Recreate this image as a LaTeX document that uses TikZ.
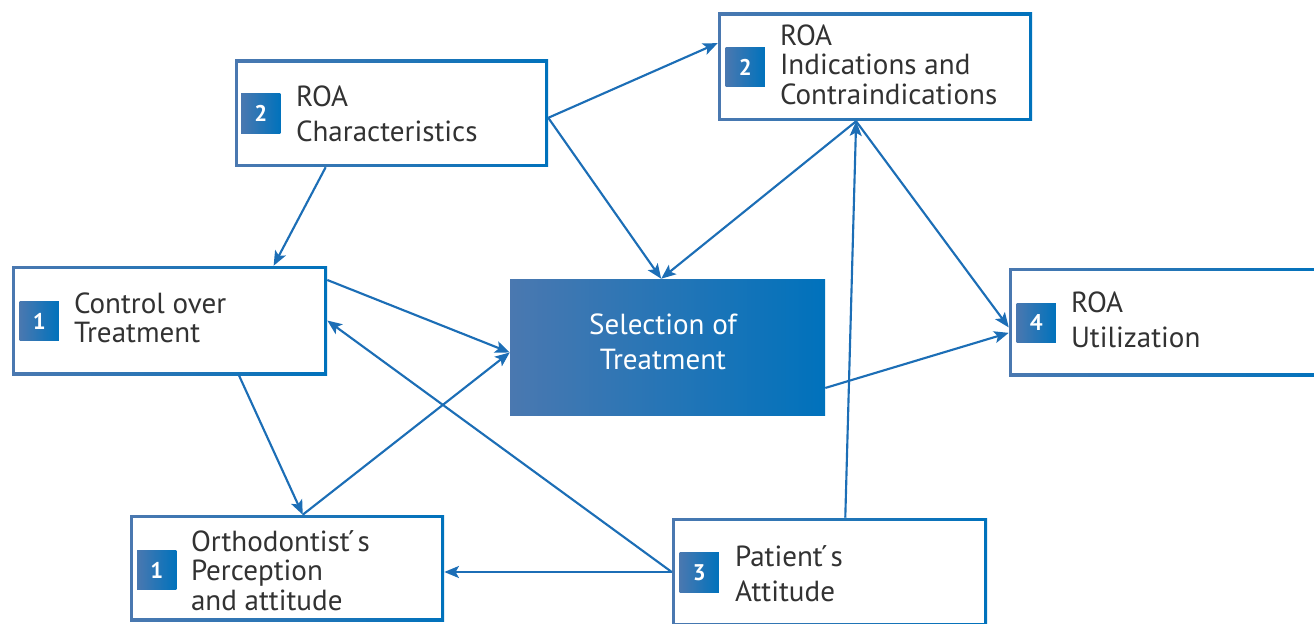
\documentclass[tikz,border=0pt]{standalone}
\usepackage{fontspec}
\setmainfont{PT Sans}
\usetikzlibrary{arrows.meta,calc}
\definecolor{cA}{RGB}{74,120,176}
\definecolor{cB}{RGB}{0,114,188}
\definecolor{lc}{RGB}{28,110,182}
\definecolor{tc}{RGB}{50,50,50}
\newcommand\txtlines[3]{{\fontsize{21.8}{#1}\selectfont\begin{tabular}[t]{@{}#2@{}}#3\end{tabular}}}
\tikzset{
  box/.style={rectangle, inner sep=0pt, left color=cA, right color=cB,
    path picture={\fill[white] ([shift={(2.3pt,-2.3pt)}]path picture bounding box.north west) rectangle ([shift={(-2.3pt,2.3pt)}]path picture bounding box.south east);}},
  selbox/.style={rectangle, inner sep=0pt, left color=cA, right color=cB},
  badge/.style={rectangle, inner sep=0pt, minimum size=29.6pt, left color=cA, right color=cB,
    text=white, font=\fontsize{17}{17}\selectfont\bfseries},
  txt/.style={inner sep=0pt, text=tc, anchor=base west},
  conn/.style={draw=lc, line width=1.6pt, -{Stealth[length=11pt,width=9pt,inset=2.5pt]}}
}
\begin{document}
\begin{tikzpicture}[x=0.75pt,y=-0.75pt]
\useasboundingbox (0,0) rectangle (1314,624);
\clip (0,0) rectangle (1314,624);
% boxes
\node[box, minimum width=234.75pt, minimum height=80.25pt] (A) at (391.5,113.5) {};
\node[box, minimum width=235.5pt, minimum height=81pt] (B) at (875,67) {};
\node[box, minimum width=236.25pt, minimum height=81.75pt] (C) at (169.5,320.5) {};
\node[selbox, minimum width=236.25pt, minimum height=102pt] (S) at (667.5,347) {};
\node[box, minimum width=236.25pt, minimum height=81pt] (D) at (1166.5,322) {};
\node[box, minimum width=235.5pt, minimum height=79.5pt] (E) at (287,568) {};
\node[box, minimum width=236.25pt, minimum height=81pt] (F) at (829.5,572) {};
% badges
\node[badge] (nA) at ($(A.west)+(26,0)$) {2};
\node[badge] (nB) at ($(B.west)+(27.5,0)$) {2};
\node[badge] (nC) at ($(C.west)+(27.5,0.5)$) {1};
\node[badge] (nD) at ($(D.west)+(27.5,1)$) {4};
\node[badge] (nE) at ($(E.west)+(27,2)$) {1};
\node[badge] (nF) at ($(F.west)+(27.5,0.5)$) {3};
% texts
\node[txt] (tA) at ($(A.north west)+(61,46.7)$) {\txtlines{26.25pt}{l}{ROA\\Characteristics}};
\node[txt] (tB) at ($(B.north west)+(62,32.7)$) {\txtlines{21.9pt}{l}{ROA\\Indications and\\Contraindications}};
\node[txt] (tC) at ($(C.north west)+(62,48)$) {\txtlines{21.9pt}{l}{Control over\\Treatment}};
\node[txt] (tD) at ($(D.north west)+(62,44.7)$) {\txtlines{26.25pt}{l}{ROA\\Utilization}};
\node[txt] (tE) at ($(E.north west)+(61,36.7)$) {\txtlines{21.9pt}{l}{Orthodontist\'{}s\\Perception\\and attitude}};
\node[txt] (tF) at ($(F.north west)+(63,48.7)$) {\txtlines{26.25pt}{l}{Patient\'{}s\\Attitude}};
\node[inner sep=0pt, text=white, anchor=base] (tS) at ($(S.north)+(-4.5,56)$) {\txtlines{26.25pt}{c}{Selection of\\Treatment}};
% connection points
\coordinate (aR) at ($(A.north east)!0.54!(A.south east)$);
\coordinate (aB) at ($(A.south west)!0.29!(A.south east)$);
\coordinate (bL) at ($(B.north west)!0.28!(B.south west)$);
\coordinate (bB) at ($(B.south west)!0.44!(B.south east)$);
\coordinate (sT) at ($(S.north west)!0.48!(S.north east)$);
\coordinate (sL) at ($(S.north west)!0.54!(S.south west)$);
\coordinate (sR) at ($(S.north east)!0.8!(S.south east)$);
\coordinate (cT) at ($(C.north west)!0.83!(C.north east)$);
\coordinate (cR) at ($(C.north east)!0.13!(C.south east)$);
\coordinate (cB) at ($(C.south west)!0.72!(C.south east)$);
\coordinate (dL1) at ($(D.north west)!0.55!(D.south west)$);
\coordinate (dL2) at ($(D.north west)!0.6!(D.south west)$);
\coordinate (eT) at ($(E.north west)!0.55!(E.north east)$);
\coordinate (fT) at ($(F.north west)!0.55!(F.north east)$);
% connectors
\draw[conn] (aR) -- (bL);
\draw[conn] (aR) -- (sT);
\draw[conn] (bB) -- (sT);
\draw[conn] (bB) -- (dL1);
\draw[conn] (fT) -- (bB);
\draw[conn] (aB) -- (cT);
\draw[conn] (cR) -- (sL);
\draw[conn] (cB) -- (eT);
\draw[conn] (eT) -- (sL);
\draw[conn] (F.west) -- (C.east);
\draw[conn] (F.west) -- (F.west -| E.east);
\draw[conn] (sR) -- (dL2);
\end{tikzpicture}
\end{document}
